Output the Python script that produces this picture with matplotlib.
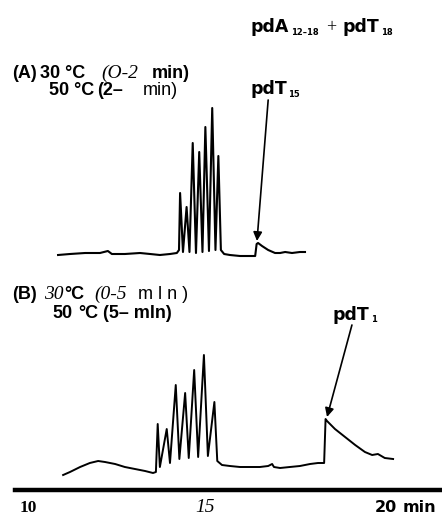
import numpy as np
import matplotlib
matplotlib.use("Agg")
import matplotlib.pyplot as plt

# Chromatogram (A): 30 C (0-2 min) then 50 C -- time (min), signal (a.u.)
time_a = [10.93, 11.26, 11.68, 12.09, 12.31, 12.42, 12.78, 13.20, 13.48, 13.75,
          14.03, 14.22, 14.28, 14.31, 14.39, 14.49, 14.57, 14.66, 14.75, 14.84,
          14.93, 15.01, 15.11, 15.20, 15.29, 15.37, 15.44, 15.53, 15.69, 15.97,
          16.25, 16.39, 16.43, 16.47, 16.58, 16.75, 16.94, 17.08, 17.22, 17.41,
          17.63, 17.77]
signal_a = [0.05, 0.06, 0.07, 0.07, 0.09, 0.06, 0.06, 0.07, 0.06, 0.05,
            0.06, 0.07, 0.10, 0.67, 0.08, 0.53, 0.08, 1.17, 0.07, 1.08,
            0.08, 1.33, 0.09, 1.52, 0.10, 1.04, 0.10, 0.06, 0.05, 0.04,
            0.04, 0.04, 0.16, 0.17, 0.14, 0.10, 0.07, 0.07, 0.08, 0.07,
            0.08, 0.08]

# Chromatogram (B): 30 C (0-5 min) then 50 C
time_b = [11.07, 11.26, 11.54, 11.81, 12.04, 12.23, 12.51, 12.78, 13.06, 13.34,
          13.56, 13.64, 13.69, 13.75, 13.94, 14.03, 14.19, 14.29, 14.45, 14.55,
          14.70, 14.81, 14.97, 15.08, 15.26, 15.34, 15.47, 15.69, 15.97, 16.25,
          16.52, 16.75, 16.86, 16.91, 17.08, 17.35, 17.63, 17.91, 18.13, 18.30,
          18.34, 18.38, 18.60, 18.88, 19.16, 19.43, 19.63, 19.79, 19.98, 20.21]
signal_b = [0.05, 0.08, 0.13, 0.17, 0.19, 0.18, 0.16, 0.13, 0.11, 0.09,
            0.07, 0.08, 0.56, 0.13, 0.51, 0.17, 0.95, 0.21, 0.87, 0.22,
            1.10, 0.23, 1.25, 0.24, 0.78, 0.19, 0.15, 0.14, 0.13, 0.13,
            0.13, 0.14, 0.16, 0.13, 0.12, 0.13, 0.14, 0.16, 0.17, 0.17,
            0.61, 0.59, 0.51, 0.43, 0.35, 0.28, 0.25, 0.26, 0.22, 0.21]

offset_a = 2.2
tick_pos = [10, 15, 20]

W, H = 442, 516
fig = plt.figure(figsize=(W / 100, H / 100), dpi=100)
ax = fig.add_axes([15 / W, 26 / H, 427 / W, 490 / H])

ax.plot(time_a, np.array(signal_a) + offset_a, color="black", lw=1.5)
ax.plot(time_b, signal_b, color="black", lw=1.4)

ax.set_xlim(9.737, 21.565)
ax.set_ylim(-0.1, 4.8)
for s in ["top", "right", "left"]:
    ax.spines[s].set_visible(False)
ax.spines["bottom"].set_linewidth(3.2)
ax.set_yticks([])
ax.set_xticks([])

xt = ax.get_xaxis_transform()
yl = -22 / 490
ax.text(tick_pos[0] + 0.1, yl, "10", transform=xt, ha="center", va="baseline",
        family="Liberation Serif", weight="bold", fontsize=12.5)
ax.text(tick_pos[1], yl, "15", transform=xt, ha="center", va="baseline",
        family="Liberation Serif", style="italic", fontsize=14)
ax.text(tick_pos[2], yl, "20", transform=xt, ha="center", va="baseline",
        family="DejaVu Sans", weight="bold", fontsize=11.5)
ax.text(tick_pos[2] + 0.48, yl, "min", transform=xt, ha="left", va="baseline",
        family="DejaVu Sans", weight="bold", fontsize=11.5)

# arrows to pdT peaks
arrow = dict(arrowstyle="-|>", color="black", lw=1.2, mutation_scale=13,
             shrinkA=0, shrinkB=0)
ax.annotate("", xy=(16.44, offset_a + 0.19), xytext=(16.75, offset_a + 1.60),
            arrowprops=arrow)
ax.annotate("", xy=(18.38, 0.63), xytext=(19.07, 1.55), arrowprops=arrow)


def put(x, y, s, **kw):
    fig.text(x / W, 1 - y / H, s, ha="left", va="baseline", **kw)


bold = dict(family="Liberation Sans", weight="bold", fontsize=13)
heavy = dict(family="DejaVu Sans", weight="bold", fontsize=12.5)
ital = dict(family="Liberation Serif", style="italic", fontsize=14)
plain = dict(family="Liberation Sans", fontsize=13)
sub = dict(family="DejaVu Sans", weight="bold", fontsize=6)

# title
put(250, 32, "pdA", **heavy)
put(291, 35, "12–18", **sub)
put(326, 32, "+", family="Liberation Serif", fontsize=13)
put(343, 32, "pdT", **heavy)
put(381, 35, "18", **sub)

# panel A labels
put(12, 78, "(A)", **bold)
put(40, 78, "30 °C", **bold)
put(101, 78, "(O-2", **ital)
put(152, 78, "min)", **bold)
put(49, 95, "50 °C", **bold)
put(97, 95, "(2–", **bold)
put(143, 95, "min)", **plain)
put(250, 94, "pdT", **heavy)
put(288, 97, "15", **sub)

# panel B labels
put(12, 299, "(B)", **bold)
put(44, 299, "30", **ital)
put(64, 299, "°C", **bold)
put(94, 299, "(0-5", **ital)
put(138, 299, "m l n )", **plain)
put(52, 318, "50", **bold)
put(78, 318, "°C", **bold)
put(103, 318, "(5– mln)", **bold)
put(333, 320, "pdT", **heavy)
put(371, 322, "1", **sub)

fig.savefig("out.png", dpi=100)
